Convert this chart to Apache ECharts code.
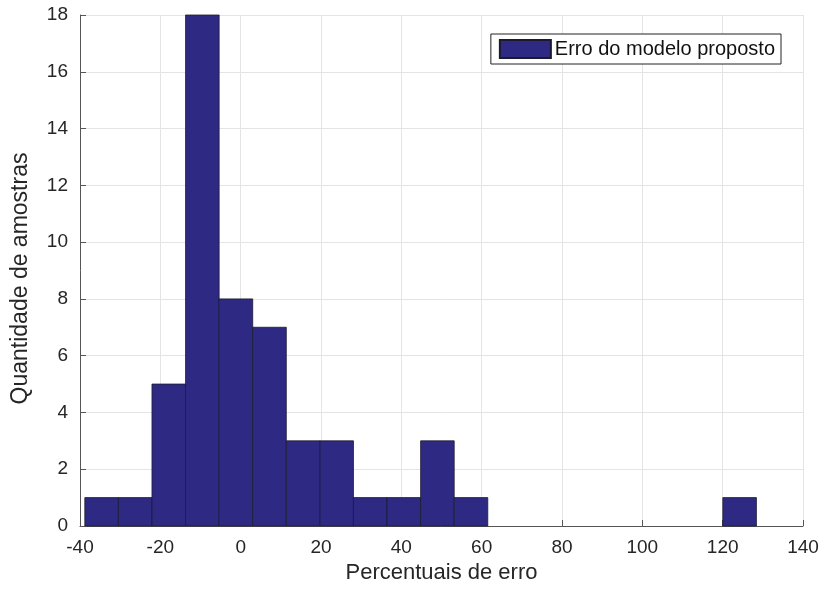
<!DOCTYPE html>
<html>
<head>
<meta charset="utf-8">
<script src="https://cdn.jsdelivr.net/npm/echarts@6/dist/echarts.min.js"></script>
<style>html,body{margin:0;padding:0;background:#fff;}#c{width:822px;height:589px;}</style>
</head>
<body>
<div id="c"></div>
<script>
const binEdges = [-38.8, -30.44, -22.08, -13.72, -5.36, 3.0, 11.36, 19.72, 28.08, 36.44, 44.8, 53.16, 61.52, 69.88, 78.24, 86.6, 94.96, 103.32, 111.68, 120.04, 128.4];
const counts = [1, 1, 5, 18, 8, 7, 3, 3, 1, 1, 3, 1, 0, 0, 0, 0, 0, 0, 0, 1];
const seriesName = 'Erro do modelo proposto';
const xTitle = 'Percentuais de erro';
const yTitle = 'Quantidade de amostras';

const data = [];
for (let i = 0; i < counts.length; i++) {
  if (counts[i] > 0) data.push([binEdges[i], binEdges[i + 1], counts[i]]);
}
const font = 'Liberation Sans, Arial, Helvetica, sans-serif';
const chart = echarts.init(document.getElementById('c'), null, {renderer: 'canvas'});
chart.setOption({
  animation: false,
  backgroundColor: '#fff',
  grid: {left: 80, right: 19, top: 15, bottom: 63},
  legend: {
    data: [seriesName],
    right: 41, top: 34,
    icon: 'rect',
    itemWidth: 51, itemHeight: 18, itemGap: 4,
    padding: [5, 6, 5, 8],
    borderColor: '#222', borderWidth: 1,
    borderRadius: 0,
    backgroundColor: '#fff',
    textStyle: {fontFamily: font, fontSize: 20, color: '#111', padding: [0, 0, 0, -1]}
  },
  xAxis: {
    type: 'value', min: -40, max: 140, interval: 20,
    name: xTitle, nameLocation: 'middle', nameGap: 26,
    nameTextStyle: {fontFamily: font, fontSize: 22, color: '#262626'},
    axisLine: {show: true, onZero: false, lineStyle: {color: '#555', width: 1}},
    axisTick: {show: true, inside: true, length: 6, lineStyle: {color: '#555'}},
    axisLabel: {fontFamily: font, fontSize: 19, color: '#262626', margin: 12},
    splitLine: {show: true, lineStyle: {color: '#e4e4e4', width: 1}}
  },
  yAxis: {
    type: 'value', min: 0, max: 18, interval: 2,
    name: yTitle, nameLocation: 'middle', nameGap: 48, nameRotate: 90,
    nameTextStyle: {fontFamily: font, fontSize: 23, color: '#262626', padding: [0, 16, 0, 0]},
    axisLine: {show: true, onZero: false, lineStyle: {color: '#555', width: 1}},
    axisTick: {show: true, inside: true, length: 6, lineStyle: {color: '#555'}},
    axisLabel: {fontFamily: font, fontSize: 19, color: '#262626', margin: 12},
    splitLine: {show: true, lineStyle: {color: '#e4e4e4', width: 1}}
  },
  series: [{
    name: seriesName,
    type: 'custom',
    itemStyle: {color: '#2e2a84', borderColor: '#1a1a2e', borderWidth: 0.8},
    encode: {x: [0, 1], y: 2},
    data: data,
    renderItem: function (params, api) {
      const p0 = api.coord([api.value(0), api.value(2)]);
      const p1 = api.coord([api.value(1), 0]);
      return {
        type: 'rect',
        shape: {x: p0[0], y: p0[1], width: p1[0] - p0[0], height: p1[1] - p0[1]},
        style: {fill: '#2e2a84', stroke: '#1a1a2e', lineWidth: 0.8}
      };
    }
  }]
});
</script>
</body>
</html>
